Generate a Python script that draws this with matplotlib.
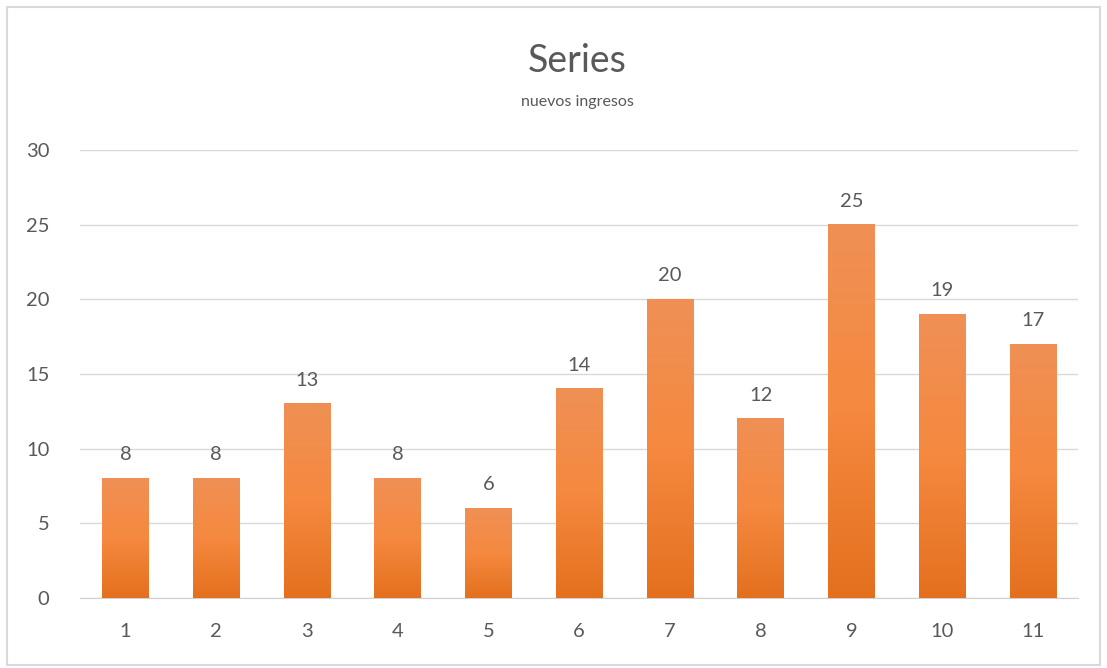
import numpy as np
import matplotlib.pyplot as plt
from matplotlib.colors import LinearSegmentedColormap
from matplotlib.patches import Rectangle

categories = ['1', '2', '3', '4', '5', '6', '7', '8', '9', '10', '11']
values = [8, 8, 13, 8, 6, 14, 20, 12, 25, 19, 17]
yticks = [0, 5, 10, 15, 20, 25, 30]

plt.rcParams['font.family'] = ['Lato', 'DejaVu Sans']
text_color = '#595959'

fig = plt.figure(figsize=(11.07, 6.68), dpi=100)
fig.patches.append(Rectangle((0.006, 0.004), 0.988, 0.985, transform=fig.transFigure,
                             fill=False, edgecolor='#D9D9D9', linewidth=1.5))
ax = fig.add_axes([0.0723, 0.105, 0.9017, 0.6706])

x = np.arange(len(categories))
bars = ax.bar(x, values, width=0.51, color='none', zorder=3)

# gradient fill inside each bar
grad = LinearSegmentedColormap.from_list('og', ['#E4701E', '#F5893F', '#F09055'])
g = np.linspace(0, 1, 256).reshape(-1, 1)
for b in bars:
    x0, w, h = b.get_x(), b.get_width(), b.get_height()
    ax.imshow(g, cmap=grad, origin='lower', aspect='auto',
              extent=(x0, x0 + w, 0, h), zorder=3, interpolation='bicubic')

for xi, v in zip(x, values):
    ax.text(xi, v + 1.0, str(v), ha='center', va='bottom', fontsize=14.5, color=text_color)

ax.set_xlim(-0.5, len(categories) - 0.5)
ax.set_ylim(0, 30)
ax.set_xticks(x)
ax.set_xticklabels(categories)
ax.set_yticks(yticks)
ax.tick_params(axis='both', length=0, labelsize=14.5, colors=text_color)
ax.tick_params(axis='x', pad=18)
ax.tick_params(axis='y', pad=22)
ax.yaxis.grid(True, color='#D9D9D9', linewidth=1, zorder=0)
ax.set_axisbelow(True)
for s in ['top', 'right', 'left']:
    ax.spines[s].set_visible(False)
ax.spines['bottom'].set_color('#D0D0D0')

fig.text(0.5215, 0.908, 'Series', ha='center', va='center', fontsize=27, color=text_color)
fig.text(0.5215, 0.848, 'nuevos ingresos', ha='center', va='center', fontsize=11.5, color=text_color)

fig.savefig('out.png', dpi=100)
